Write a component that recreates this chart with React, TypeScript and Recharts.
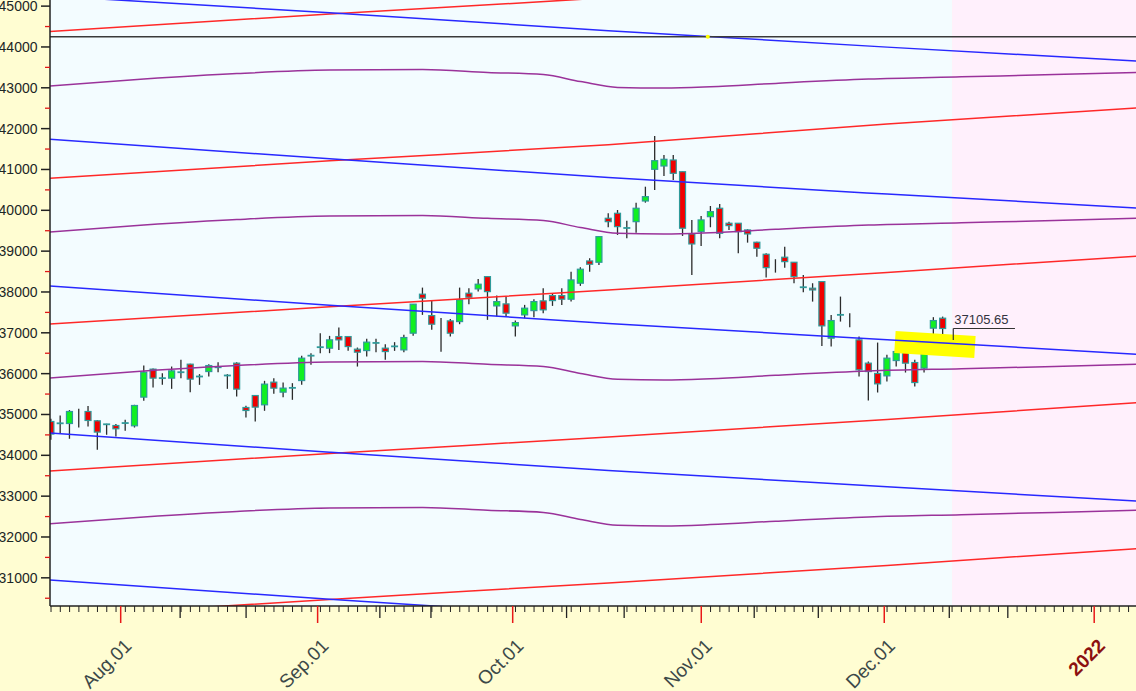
import React from "react";
import {
  Bar,
  ComposedChart,
  Line,
  ReferenceArea,
  ReferenceDot,
  ReferenceLine,
  XAxis,
  YAxis,
} from "recharts";

// trading days, Jul 20 2021 .. Dec 09 2021
const dates = [
  "07-20", "07-22", "07-23", "07-26", "07-27", "07-28", "07-29", "07-30",
  "08-02", "08-03", "08-04", "08-05", "08-06", "08-09", "08-10", "08-11", "08-12", "08-13",
  "08-16", "08-17", "08-18", "08-20", "08-23", "08-24", "08-25", "08-26", "08-27", "08-30", "08-31",
  "09-01", "09-02", "09-03", "09-06", "09-07", "09-08", "09-09", "09-13", "09-14", "09-15",
  "09-16", "09-17", "09-20", "09-21", "09-22", "09-23", "09-24", "09-27", "09-28", "09-29", "09-30",
  "10-01", "10-04", "10-05", "10-06", "10-07", "10-08", "10-11", "10-12", "10-13", "10-14",
  "10-18", "10-19", "10-20", "10-21", "10-22", "10-25", "10-26", "10-27", "10-28", "10-29",
  "11-01", "11-02", "11-03", "11-04", "11-08", "11-09", "11-10", "11-11", "11-12", "11-15",
  "11-16", "11-17", "11-18", "11-22", "11-23", "11-24", "11-25", "11-26", "11-29", "11-30",
  "12-01", "12-02", "12-03", "12-06", "12-07", "12-08", "12-09",
];

const open = [
  34828, 34784, 34779, 34935, 35073, 34845, 34760, 34730, 34780, 34723,
  35425, 36110, 35890, 35890, 36025, 36232, 35920, 36051, 36150, 35955,
  36257, 35171, 35464, 35237, 35792, 35547, 35645, 35831, 36430, 36640,
  36624, 36908, 36908, 36599, 36565, 36745, 36624, 36660, 36582, 36991,
  37946, 37422, 36900, 37292, 37275, 37970, 38075, 38376, 37659, 37708,
  37170, 37439, 37544, 37782, 37911, 37911, 37823, 38215, 38760, 38728,
  39805, 39927, 39560, 39722, 40228, 41004, 41085, 41232, 40945, 39421,
  39477, 39844, 40050, 39683, 39683, 39519, 39218, 38924, 38720, 38851,
  38728, 38116, 38092, 38254, 36869, 37440, 37200, 36827, 36257, 36005,
  35946, 36321, 36526, 36272, 36135, 37114, 37358,
];
const high = [
  34894, 34975, 35107, 35139, 35205, 34862, 34772, 34764, 34869, 35237,
  36198, 36125, 36012, 36174, 36338, 36240, 35988, 36232, 36282, 35988,
  36282, 35212, 35475, 35824, 35890, 35782, 35767, 36436, 36502, 36991,
  36925, 37128, 36915, 36639, 36852, 36852, 36722, 36771, 36950, 37705,
  38107, 37782, 37365, 37341, 38107, 38092, 38320, 38385, 37911, 37887,
  37300, 37684, 37823, 38092, 37970, 38092, 38498, 38606, 38826, 39365,
  39927, 40008, 39746, 40187, 40578, 41819, 41354, 41354, 40950, 39764,
  39861, 40106, 40155, 39722, 39690, 39536, 39232, 38949, 38802, 39110,
  38735, 38418, 38214, 38260, 37439, 37887, 37481, 36908, 36296, 36761,
  36460, 36599, 36827, 36338, 36705, 37383, 37397,
];
const low = [
  34380, 34544, 34405, 34681, 34706, 34136, 34503, 34461, 34600, 34681,
  35335, 35660, 35726, 35628, 35890, 35547, 35726, 35929, 36037, 35628,
  35440, 34926, 34828, 35090, 35506, 35425, 35359, 35726, 36215, 36502,
  36502, 36582, 36558, 36174, 36419, 36526, 36338, 36558, 36526, 36925,
  37439, 37072, 36534, 36908, 37211, 37701, 38009, 37317, 37397, 37397,
  36908, 37358, 37383, 37481, 37659, 37684, 37764, 38149, 38498, 38662,
  39585, 39397, 39316, 39453, 40187, 40498, 40840, 40741, 39372, 38418,
  39127, 39585, 39316, 39519, 38949, 39208, 38865, 38352, 38474, 38596,
  38214, 37994, 37764, 36680, 36663, 37275, 37138, 35929, 35342, 35538,
  35806, 36174, 36027, 35685, 36027, 36925, 36908,
];
const close = [
  34520, 34760, 35073, 34935, 34853, 34569, 34752, 34650, 34790, 35220,
  36037, 35890, 35882, 36068, 36035, 35866, 35930, 36198, 36156, 35950,
  35621, 35098, 35180, 35743, 35645, 35645, 35652, 36379, 36440, 36648,
  36827, 36827, 36663, 36526, 36771, 36752, 36541, 36668, 36884, 37701,
  37848, 37211, 36900, 36991, 37806, 37872, 38190, 38009, 37764, 37481,
  37250, 37603, 37764, 37562, 37789, 37823, 38295, 38557, 38679, 39355,
  39722, 39600, 39567, 40050, 40334, 41215, 41249, 40906, 39561, 39176,
  39764, 39967, 39438, 39625, 39477, 39421, 39071, 38596, 38720, 38743,
  38376, 38110, 38050, 37170, 37300, 37434, 37200, 36093, 36051, 35750,
  36379, 36541, 36257, 35782, 36624, 37300, 37105.65,
];

// overlay lines, sampled at bar index positions
const lineIdx = [-1, 30, 60, 90, 118];
const red1 = [44369, 44809, 45206, 45715, 46119];
const red2 = [40770, 41211, 41607, 42116, 42520];
const red3 = [37203, 37636, 38048, 38479, 38895];
const red4 = [33605, 34045, 34449, 34877, 35306];
const red5 = [30030, 30471, 30875, 31304, 31732];
const blue1 = [45260, 44840, 44400, 43996, 43642];
const blue2 = [41752, 41262, 40802, 40398, 40043];
const blue3 = [38160, 37673, 37228, 36831, 36461];
const blue4 = [34562, 34075, 33629, 33233, 32863];
const blue5 = [30963, 30476, 30031, 29635, 29265];

const waveIdx = [-1, 10, 20, 30, 40, 47, 53, 57, 61, 66, 71, 78, 88, 98, 108, 118];
const purple1 = [43029, 43213, 43348, 43433, 43446, 43377, 43323, 43152, 43010, 42993, 43025, 43108, 43213, 43269, 43323, 43384];
const purple2 = [39455, 39639, 39774, 39859, 39872, 39803, 39749, 39578, 39436, 39419, 39451, 39534, 39639, 39695, 39749, 39810];
const purple3 = [35881, 36065, 36200, 36285, 36298, 36229, 36175, 36004, 35862, 35845, 35877, 35960, 36065, 36121, 36175, 36236];
const purple4 = [32307, 32491, 32626, 32711, 32724, 32655, 32601, 32430, 32288, 32271, 32303, 32386, 32491, 32547, 32601, 32662];

const highlightIdx = [90.85, 99.46];
const highlightVal = [36775, 36652];

const monthTickIdx = [7.5, 28.7, 49.7, 70, 89.7, 112.3];
const monthLabels = ["Aug.01", "Sep.01", "Oct.01", "Nov.01", "Dec.01", "2022"];
const markTickIdx = [13.9, 21.0, 35.4, 40.9, 55.5, 61.7, 75.7, 82.6, 96.7, 103.0];

const lastClose = 37105.65;
const leaderLow = 36824;
const labelIdx = [97.13, 103.77];
const guideLevel = 44250;
const futureStart = 97;

const X_MIN = -0.11;
const X_MAX = 116.8;
const Y_MIN = 30310;
const Y_MAX = 45150;

const FONT = "'Liberation Sans', Arial, sans-serif";

const candles = dates.map((d, k) => ({
  i: k,
  date: d,
  open: open[k],
  high: high[k],
  low: low[k],
  close: close[k],
}));

const pts = (idx: number[], vals: number[]) => idx.map((i, k) => ({ i, v: vals[k] }));

const overlays = [
  ...[red1, red2, red3, red4, red5].map((v) => ({ data: pts(lineIdx, v), color: "#ff2828" })),
  ...[blue1, blue2, blue3, blue4, blue5].map((v) => ({ data: pts(lineIdx, v), color: "#2828ff" })),
  ...[purple1, purple2, purple3, purple4].map((v) => ({ data: pts(waveIdx, v), color: "#9a329a" })),
];

const yTicks = Array.from({ length: 30 }, (_, k) => 30500 + k * 500);
const xTicks = Array.from(
  new Set([...Array.from({ length: 117 }, (_, k) => k), ...markTickIdx, ...monthTickIdx])
).sort((a, b) => a - b);

function Candle(props: any) {
  const { x, y, width, height, payload } = props;
  if (x == null || y == null) return null;
  const { open: o, close: c, high: h, low: l } = payload;
  const cx = x + width / 2;
  const top = Math.min(y, y + height);
  const bot = Math.max(y, y + height);
  const k = h > l ? (bot - top) / (h - l) : 0;
  const py = (v: number) => top + (h - v) * k;
  const yo = py(o);
  const yc = py(c);
  const bt = Math.min(yo, yc);
  const bh = Math.abs(yc - yo);
  const up = c >= o;
  return (
    <g>
      <line x1={cx} x2={cx} y1={top} y2={bot} stroke="#2b2b2b" strokeWidth={1.3} />
      {o === c ? null : bh < 1.6 ? (
        <line x1={cx - 3.5} x2={cx + 3.5} y1={bt} y2={bt} stroke="#2f9a9a" strokeWidth={1.8} />
      ) : (
        <rect
          x={cx - 3}
          y={bt}
          width={6}
          height={bh}
          fill={up ? "#10f020" : "#f00000"}
          stroke="#2f9a9a"
          strokeWidth={1.2}
        />
      )}
    </g>
  );
}

function YTick(props: any) {
  const { x, y, payload } = props;
  const v = payload.value;
  if (v % 1000 === 0) {
    return (
      <g>
        <line x1={x - 9} x2={x} y1={y} y2={y} stroke="#222" strokeWidth={1.5} />
        <text x={x - 12.5} y={y} dy={5} textAnchor="end" fontSize={14} fontFamily={FONT} fill="#1c2626">
          {v}
        </text>
      </g>
    );
  }
  return <line x1={x - 5} x2={x} y1={y} y2={y} stroke="#e01818" strokeWidth={1.3} />;
}

function XTick(props: any) {
  const { x, y, payload } = props;
  const v = payload.value;
  const m = monthTickIdx.indexOf(v);
  if (m >= 0) {
    const tx = x + 12;
    const ty = y + 41;
    const isYear = monthLabels[m] === "2022";
    return (
      <g>
        <line x1={x} x2={x} y1={y} y2={y + 17} stroke="#e81818" strokeWidth={1.5} />
        <text
          x={tx}
          y={ty}
          transform={`rotate(-45 ${tx} ${ty})`}
          textAnchor="end"
          fontSize={19}
          fontFamily={FONT}
          fontWeight={isYear ? "bold" : "normal"}
          fill={isYear ? "#8c1010" : "#3c4848"}
        >
          {monthLabels[m]}
        </text>
      </g>
    );
  }
  if (markTickIdx.includes(v)) {
    return <line x1={x} x2={x} y1={y} y2={y + 12} stroke="#222" strokeWidth={1.3} />;
  }
  return <line x1={x} x2={x} y1={y} y2={y + 6} stroke="#222" strokeWidth={1} />;
}

export default function App() {
  return (
    <div
      style={{
        position: "absolute",
        left: 0,
        top: 0,
        width: 1136,
        height: 691,
        background: "#fffdd2",
        overflow: "hidden",
      }}
    >
      <ComposedChart width={1136} height={691} data={candles} margin={{ top: 0, right: 0, bottom: 0, left: 0 }}>
        <ReferenceArea x1={X_MIN} x2={futureStart} fill="#f3fcff" fillOpacity={1} stroke="none" />
        <ReferenceArea x1={futureStart} x2={X_MAX} fill="#fff0fc" fillOpacity={1} stroke="none" />
        <XAxis
          dataKey="i"
          type="number"
          domain={[X_MIN, X_MAX]}
          allowDataOverflow
          ticks={xTicks}
          interval={0}
          tick={(p: any) => <XTick {...p} />}
          tickLine={false}
          tickSize={0}
          tickMargin={0}
          height={85}
          axisLine={{ stroke: "#222", strokeWidth: 1.5 }}
        />
        <YAxis
          type="number"
          domain={[Y_MIN, Y_MAX]}
          allowDataOverflow
          ticks={yTicks}
          interval={0}
          tick={(p: any) => <YTick {...p} />}
          tickLine={false}
          tickSize={0}
          tickMargin={0}
          width={50}
          axisLine={{ stroke: "#222", strokeWidth: 1.5 }}
        />
        {/* highlighter band sits under the lines and bars */}
        <ReferenceLine
          segment={[
            { x: highlightIdx[0], y: highlightVal[0] },
            { x: highlightIdx[1], y: highlightVal[1] },
          ]}
          stroke="#ffff00"
          strokeWidth={22}
          strokeLinecap="butt"
        />
        {overlays.map((o, k) => (
          <Line
            key={k}
            data={o.data}
            dataKey="v"
            type="monotone"
            stroke={o.color}
            strokeWidth={1.5}
            dot={false}
            activeDot={false}
            isAnimationActive={false}
          />
        ))}
        <ReferenceLine y={guideLevel} stroke="#3a3a3a" strokeWidth={1.6} />
        <ReferenceDot x={70.7} y={guideLevel} r={2} fill="#ffff00" stroke="none" />
        <Bar
          dataKey={(d: any) => [d.low, d.high]}
          barSize={7}
          shape={(p: any) => <Candle {...p} />}
          isAnimationActive={false}
        />
        <ReferenceLine
          segment={[
            { x: labelIdx[0], y: lastClose },
            { x: labelIdx[1], y: lastClose },
          ]}
          stroke="#333"
          strokeWidth={1.2}
          label={(p: any) => (
            <text x={p.viewBox.x + 1} y={p.viewBox.y - 4} fontSize={13} fontFamily={FONT} fill="#333340">
              {lastClose.toFixed(2)}
            </text>
          )}
        />
        <ReferenceLine
          segment={[
            { x: labelIdx[0], y: lastClose },
            { x: labelIdx[0], y: leaderLow },
          ]}
          stroke="#333"
          strokeWidth={1.2}
        />
      </ComposedChart>
    </div>
  );
}
